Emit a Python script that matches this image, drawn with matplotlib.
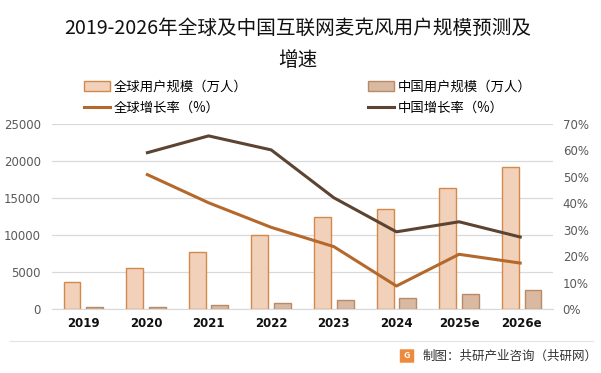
import matplotlib
matplotlib.use("Agg")
import matplotlib.pyplot as plt
import numpy as np
from matplotlib.patches import Patch, FancyBboxPatch
from matplotlib.lines import Line2D

plt.rcParams['font.family'] = ['Noto Sans CJK SC', 'DejaVu Sans']

years = ["2019", "2020", "2021", "2022", "2023", "2024", "2025e", "2026e"]
global_users = [3610, 5500, 7660, 9960, 12390, 13470, 16310, 19150]
china_users = [270, 250, 540, 810, 1170, 1490, 1990, 2530]
growth_years = ["2020", "2021", "2022", "2023", "2024", "2025e", "2026e"]
global_growth = [51.1, 40.2, 30.9, 23.6, 8.7, 20.7, 17.3]
china_growth = [59.0, 65.5, 60.2, 42.1, 29.2, 33.0, 27.1]

W, H = 601, 373
fig = plt.figure(figsize=(W / 100, H / 100), dpi=100)
ax = fig.add_axes([52 / W, 1 - 309 / H, (553 - 52) / W, (309 - 124) / H])
ax2 = ax.twinx()

x = np.arange(len(years))
bw = 0.27
c_gbar, e_gbar = "#F1D1B9", "#D3894B"
c_cbar, e_cbar = "#D9B9A1", "#B98A66"
c_gline = "#B5682C"
c_cline = "#5C4332"

ax.bar(x - 0.18, global_users, bw, color=c_gbar, edgecolor=e_gbar, linewidth=1.0, zorder=3)
ax.bar(x + 0.18, china_users, bw, color=c_cbar, edgecolor=e_cbar, linewidth=1.0, zorder=3)

gx = [years.index(y) for y in growth_years]
ax2.plot(gx, global_growth, color=c_gline, lw=2.2, solid_capstyle='butt')
ax2.plot(gx, china_growth, color=c_cline, lw=2.2, solid_capstyle='butt')

ax.set_xlim(-0.5, len(years) - 0.5)
ax.set_ylim(0, 25000)
ax.set_yticks(range(0, 25001, 5000))
ax2.set_ylim(0, 70)
ax2.set_yticks(range(0, 71, 10))
ax2.set_yticklabels([f"{v}%" for v in range(0, 71, 10)])

ax.grid(axis='y', color="#D9D9D9", lw=0.9, zorder=0)
ax.set_axisbelow(True)
for a in (ax, ax2):
    for s in a.spines.values():
        s.set_visible(False)
ax.spines['bottom'].set_visible(True)
ax.spines['bottom'].set_color("#D9D9D9")

ax.set_xticks(x)
ax.set_xticklabels(years, fontsize=8.5, fontweight='bold', color="#111111", family=['DejaVu Sans'])
ax.tick_params(axis='x', length=0, pad=6)
ax.tick_params(axis='y', length=0, labelsize=8.5, labelcolor="#595959", pad=8)
ax2.tick_params(axis='y', length=0, labelsize=8.5, labelcolor="#595959", pad=7)
for lbl in ax.get_yticklabels() + ax2.get_yticklabels():
    lbl.set_family(['DejaVu Sans'])

fig.text(298 / W, 1 - 28 / H, "2019-2026年全球及中国互联网麦克风用户规模预测及", ha='center', va='center', fontsize=14.1, color="#111111")
fig.text(298 / W, 1 - 61 / H, "增速", ha='center', va='center', fontsize=14.1, color="#111111")

handles = [
    Patch(facecolor=c_gbar, edgecolor=e_gbar, label="全球用户规模（万人）"),
    Line2D([], [], color=c_gline, lw=2.2, label="全球增长率（%）"),
    Patch(facecolor=c_cbar, edgecolor=e_cbar, label="中国用户规模（万人）"),
    Line2D([], [], color=c_cline, lw=2.2, label="中国增长率（%）"),
]
fig.legend(handles=handles, ncol=2, loc='upper left', bbox_to_anchor=(72 / W, 1 - 68 / H),
           frameon=False, fontsize=9.6, columnspacing=9.1, handlelength=1.95,
           handleheight=0.75, handletextpad=0.25, labelspacing=0.5)

fig.add_artist(Line2D([10 / W, 593 / W], [1 - 341 / H, 1 - 341 / H], color="#E3E3E3", lw=0.8))
fig.add_artist(FancyBboxPatch((401 / W, 1 - 362 / H), 12 / W, 12 / H,
                              boxstyle="round,pad=0.002", facecolor="#EE8A3C", edgecolor="none"))
fig.text(407 / W, 1 - 356 / H, "G", ha='center', va='center', fontsize=6.5, color='white', fontweight='bold')
fig.text(423 / W, 1 - 356 / H, "制图：共研产业咨询（共研网）", ha='left', va='center', fontsize=9, color="#333333")

fig.savefig("out.png", dpi=100)
